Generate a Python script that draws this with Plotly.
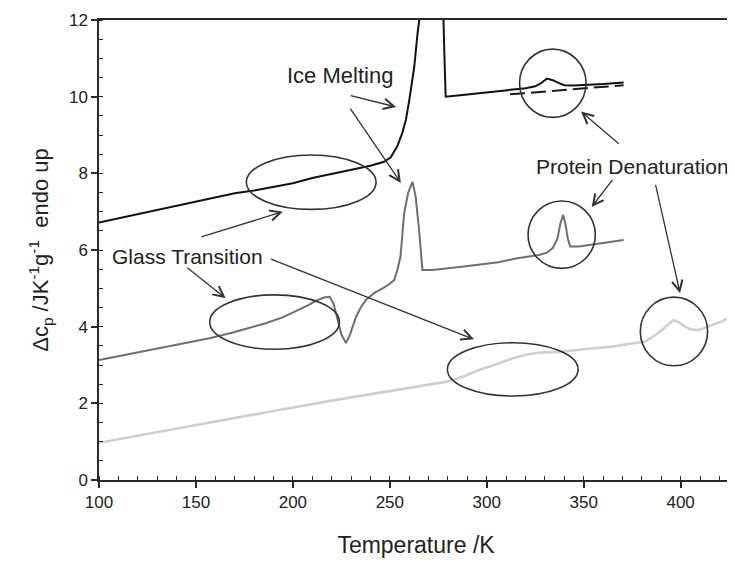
import plotly.graph_objects as go

# ---------------- data ----------------
black_T = [100, 120, 140, 160, 170, 180, 190, 200, 210, 220, 230, 240, 247, 250.5, 252, 253.8,
           256.4, 258.3, 260, 261.5, 262.6, 264.3, 265.7, 268, 272, 276, 277.4, 278.2, 278.8,
           285, 296, 305, 315, 320, 325, 328, 331, 334, 337, 340, 345, 352, 360, 370.6]
black_v = [6.72, 6.94, 7.16, 7.38, 7.48, 7.55, 7.64, 7.74, 7.88, 7.99, 8.08, 8.2, 8.3, 8.42, 8.55, 8.7,
           9.05, 9.4, 9.9, 10.35, 10.78, 11.66, 12.2, 13.5, 15.0, 14.0, 12.5, 11.0, 10.0,
           10.03, 10.09, 10.13, 10.18, 10.22, 10.27, 10.35, 10.47, 10.43, 10.36, 10.3, 10.29, 10.3, 10.33, 10.37]

baseline_T = [312, 370.6]
baseline_v = [10.06, 10.3]

gray_T = [100, 120, 140, 157, 170, 186, 195, 203, 208, 212, 216, 219, 221, 223, 225, 227.4,
          229.5, 232.6, 235, 237.7, 242, 246.3, 250, 252.3, 254, 255.5, 257.4, 259.5, 261.7,
          263.3, 265.1, 266.8, 271.8, 285, 296, 306, 315, 326.8, 331, 334, 336.5, 338, 339.4,
          340.5, 341.8, 343, 347.4, 355, 362, 370.6]
gray_v = [3.13, 3.33, 3.53, 3.7, 3.86, 4.09, 4.25, 4.43, 4.56, 4.68, 4.76, 4.78, 4.6, 4.2, 3.8, 3.57,
          3.8, 4.26, 4.5, 4.7, 4.88, 5.0, 5.12, 5.22, 5.5, 5.83, 6.96, 7.5, 7.78,
          7.4, 6.52, 5.48, 5.48, 5.55, 5.61, 5.68, 5.78, 5.87, 5.93, 6.05, 6.3, 6.7, 6.91,
          6.7, 6.3, 6.09, 6.09, 6.15, 6.2, 6.26]

light_T = [100, 130, 160, 190, 220, 244.5, 265, 278.8, 288, 296, 305, 313, 320, 326.8, 332, 338.8,
           350, 364.5, 375, 381.7, 386, 390.3, 394, 396.3, 399, 402.3, 405, 409.2, 416, 421, 427]
light_v = [0.97, 1.25, 1.52, 1.8, 2.07, 2.28, 2.45, 2.56, 2.7, 2.87, 3.02, 3.17, 3.27, 3.32, 3.33, 3.35,
           3.41, 3.48, 3.56, 3.61, 3.75, 3.91, 4.08, 4.17, 4.12, 4.0, 3.93, 3.91, 4.04, 4.13, 4.28]

x_ticks = [100, 150, 200, 250, 300, 350, 400]
y_ticks = [0, 2, 4, 6, 8, 10, 12]

# annotation labels: (text, T, value, font size)
labels = [("Ice Melting", 224.3, 10.54, 22),
          ("Glass Transition", 145.8, 5.83, 21),
          ("Protein Denaturation", 375.2, 8.19, 21)]

# arrows: (tail T, tail value, head T, head value)
arrows = [(229.1, 10.04, 253.3, 9.73),
          (229.1, 9.73, 255.7, 7.75),
          (152.0, 6.33, 194.8, 7.00),
          (144.8, 5.57, 165.3, 4.74),
          (188.0, 5.78, 293.4, 3.67),
          (368.9, 8.74, 348.6, 9.61),
          (365.4, 7.87, 354.1, 7.12),
          (386.9, 7.74, 399.7, 4.87)]

# ellipses: (T0, T1, v0, v1)
ellipses = [(176.0, 242.9, 7.06, 8.48),
            (157.1, 224.0, 3.41, 4.83),
            (279.7, 347.1, 2.19, 3.58),
            (316.9, 351.2, 9.46, 11.24),
            (321.3, 356.0, 5.52, 7.28),
            (379.2, 413.9, 2.98, 4.77)]

FONT = "Liberation Sans, Arial, sans-serif"
AX = "#2a2a2a"

fig = go.Figure()
fig.add_trace(go.Scatter(x=light_T, y=light_v, mode="lines",
                         line=dict(color="#cfcfcf", width=2.6), showlegend=False))
fig.add_trace(go.Scatter(x=gray_T, y=gray_v, mode="lines",
                         line=dict(color="#6e6e6e", width=2.0), showlegend=False))
fig.add_trace(go.Scatter(x=baseline_T, y=baseline_v, mode="lines",
                         line=dict(color="#1a1a1a", width=2.0, dash="15px,6px"), showlegend=False))
fig.add_trace(go.Scatter(x=black_T, y=black_v, mode="lines",
                         line=dict(color="#111111", width=2.0), showlegend=False))

for (x0, x1, y0, y1) in ellipses:
    fig.add_shape(type="circle", xref="x", yref="y", x0=x0, x1=x1, y0=y0, y1=y1,
                  line=dict(color="#333333", width=1.6))

for (tx, ty, hx, hy) in arrows:
    fig.add_annotation(x=hx, y=hy, ax=tx, ay=ty, xref="x", yref="y", axref="x", ayref="y",
                       text="", showarrow=True, arrowhead=5, arrowsize=1.6, arrowwidth=1.3,
                       arrowcolor="#333333")

for (txt, tx, ty, fs) in labels:
    fig.add_annotation(x=tx, y=ty, xref="x", yref="y", text=txt, showarrow=False,
                       font=dict(family=FONT, size=fs, color="#222222"))

# the page body has an 8px margin; size and margins compensate for it
fig.update_layout(
    width=727, height=555,
    margin=dict(l=91, r=2, t=12, b=83),
    paper_bgcolor="white", plot_bgcolor="white",
    font=dict(family=FONT, color="#222222"),
    showlegend=False,
)
fig.update_xaxes(
    range=[100, 427], tickvals=x_ticks, ticks="outside", ticklen=6, tickwidth=1.5, tickcolor=AX,
    showline=True, linecolor=AX, linewidth=1.5, mirror=True, showgrid=False, zeroline=False,
    tickfont=dict(size=17, family=FONT, color="#222222"),
    minor=dict(dtick=10, ticks="inside", ticklen=4, tickwidth=1.3, tickcolor=AX, showgrid=False),
    title=dict(text="Temperature /K", font=dict(size=23, family=FONT, color="#222222"), standoff=26),
)
fig.update_yaxes(
    range=[0, 12], tickvals=y_ticks, ticks="outside", ticklen=6, tickwidth=1.5, tickcolor=AX,
    showline=True, linecolor=AX, linewidth=1.5, showgrid=False, zeroline=False,
    tickfont=dict(size=17, family=FONT, color="#222222"),
    minor=dict(dtick=0.5, ticks="inside", ticklen=4, tickwidth=1.3, tickcolor=AX, showgrid=False),
    title=dict(text="Δc<sub>p</sub> /JK<sup>-1</sup>g<sup>-1</sup>  endo up",
               font=dict(size=22, family=FONT, color="#222222"), standoff=14),
)

fig.write_html("out.html")
